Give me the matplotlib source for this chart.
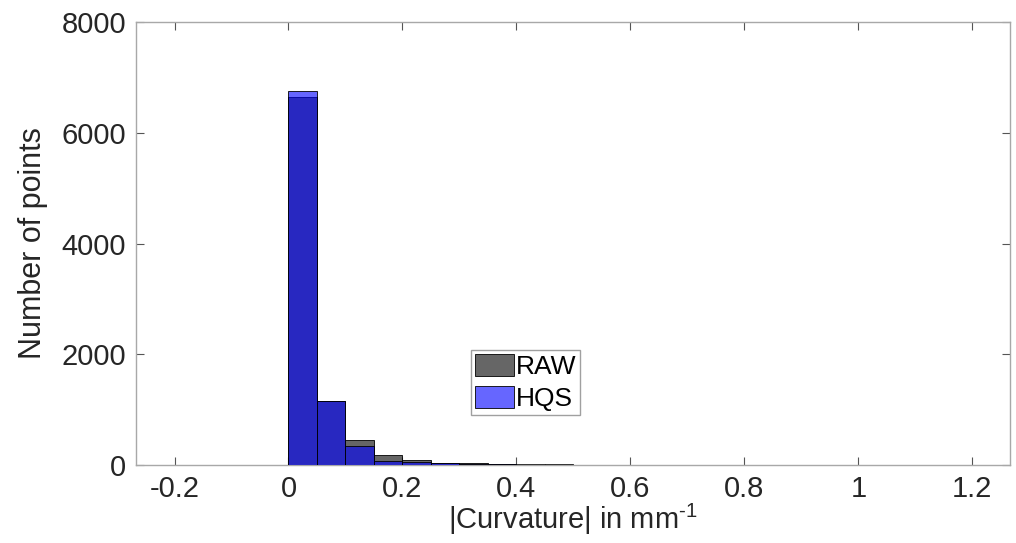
import matplotlib
matplotlib.use("Agg")
import matplotlib.pyplot as plt

# ---- data ----
bin_left = [0.00, 0.05, 0.10, 0.15, 0.20, 0.25, 0.30, 0.35, 0.40, 0.45,
            0.50, 0.55, 0.60, 0.65, 0.70]
bin_width = 0.05
raw_counts = [6650, 1160, 450, 175, 85, 45, 30, 20, 14, 10, 6, 4, 3, 2, 2]
hqs_counts = [6755, 1155, 340, 72, 50, 34, 25, 12, 6, 4, 3, 2, 1, 1, 1]
series_names = ["RAW", "HQS"]
x_ticks = [-0.2, 0, 0.2, 0.4, 0.6, 0.8, 1, 1.2]
x_tick_labels = ["-0.2", "0", "0.2", "0.4", "0.6", "0.8", "1", "1.2"]
y_ticks = [0, 2000, 4000, 6000, 8000]
y_tick_labels = ["0", "2000", "4000", "6000", "8000"]

plt.rcParams['font.family'] = ['Liberation Sans', 'DejaVu Sans']
plt.rcParams['mathtext.fontset'] = 'custom'
plt.rcParams['mathtext.rm'] = 'Liberation Sans'

fig = plt.figure(figsize=(10.16, 5.43), dpi=100)
ax = fig.add_axes([0.1339, 0.1436, 0.8602, 0.8159])

ax.bar(bin_left, raw_counts, width=bin_width, align='edge',
       facecolor=(0, 0, 0, 0.6), edgecolor='black', linewidth=0.6,
       label=series_names[0], zorder=2)
ax.bar(bin_left, hqs_counts, width=bin_width, align='edge',
       facecolor=(0, 0, 1, 0.6), edgecolor='black', linewidth=0.6,
       label=series_names[1], zorder=3)

ax.set_xlim(-0.2675, 1.266)
ax.set_ylim(0, 8000)
ax.set_xticks(x_ticks)
ax.set_xticklabels(x_tick_labels)
ax.set_yticks(y_ticks)
ax.set_yticklabels(y_tick_labels)

ax.tick_params(axis='both', direction='in', length=6, width=0.8,
               color='#555555', labelsize=21, labelcolor='#262626',
               top=True, right=True, pad=7)
for s in ax.spines.values():
    s.set_color('#a8a8a8')
    s.set_linewidth(1.0)

ax.set_xlabel(r'|Curvature| in mm$^{\mathrm{\text{-1}}}$', fontsize=21,
              color='#262626', labelpad=-1)
ax.set_ylabel('Number of points', fontsize=22, color='#262626', labelpad=10)

leg = ax.legend(loc='lower left', bbox_to_anchor=(0.383, 0.113),
                fontsize=19, frameon=True, fancybox=False, framealpha=1,
                edgecolor='#a0a0a0', borderpad=0.15, handlelength=1.5,
                handleheight=0.95, handletextpad=0.05, labelspacing=0.25,
                borderaxespad=0)
leg.get_frame().set_linewidth(1.0)

fig.savefig('out.png', dpi=100)
